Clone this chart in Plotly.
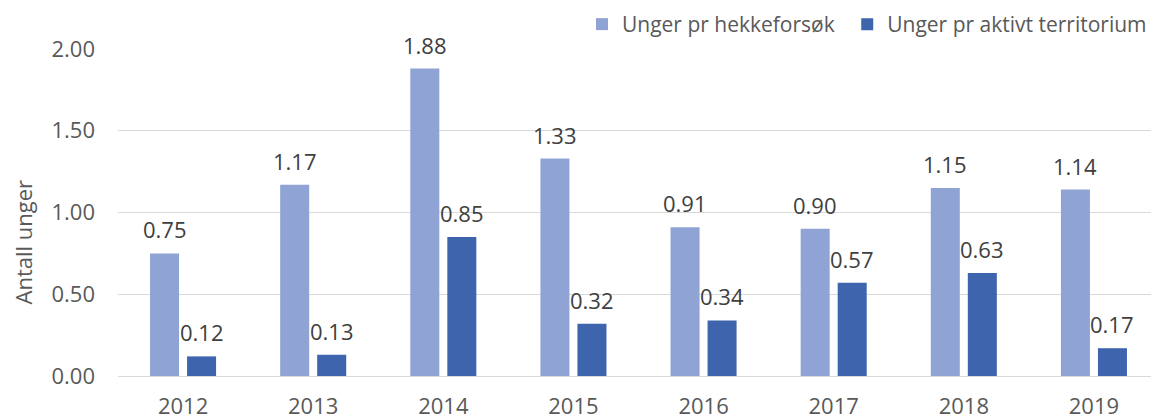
import plotly.graph_objects as go

years = ["2012", "2013", "2014", "2015", "2016", "2017", "2018", "2019"]
per_attempt = [0.75, 1.17, 1.88, 1.33, 0.91, 0.90, 1.15, 1.14]
per_territory = [0.12, 0.13, 0.85, 0.32, 0.34, 0.57, 0.63, 0.17]
series_names = ["Unger pr hekkeforsøk", "Unger pr aktivt territorium"]
colors = ["#8FA3D4", "#3D64AD"]

FONT = "Open Sans"
FS = 22
fig = go.Figure()
fig.add_trace(go.Bar(x=years, y=per_attempt, name=series_names[0], legend="legend",
                     marker=dict(color=colors[0], line=dict(width=0))))
fig.add_trace(go.Bar(x=years, y=per_territory, name=series_names[1], legend="legend2",
                     marker=dict(color=colors[1], line=dict(width=0))))

annotations = []
for vals, shift in ((per_attempt, -18.5), (per_territory, 18.5)):
    for i, v in enumerate(vals):
        annotations.append(dict(x=i, y=v, xref="x", yref="y", text=f"{v:.2f}",
                                showarrow=False, xshift=shift, yshift=24,
                                font=dict(family=FONT, size=FS, color="#404040")))
annotations.append(dict(x=0, xref="paper", xanchor="center", xshift=-96,
                        y=1.0, yref="y", yshift=-30,
                        text="Antall unger", textangle=-90, showarrow=False,
                        font=dict(family=FONT, size=FS, color="#595959")))

legend_style = dict(orientation="h", xanchor="left", y=1.075, yanchor="middle",
                    font=dict(family=FONT, size=21, color="#595959"),
                    bgcolor="rgba(0,0,0,0)", itemwidth=30)

# the page body adds an 8px offset; margins compensate for it
fig.update_layout(
    width=1159, height=416,
    margin=dict(l=110, r=8, t=41, b=48, autoexpand=False),
    paper_bgcolor="white", plot_bgcolor="white",
    barmode="group", bargap=0.431, bargroupgap=0.216,
    font=dict(family=FONT, size=FS, color="#595959"),
    showlegend=True,
    legend=dict(x=0.4457, **legend_style),
    legend2=dict(x=0.7005, **legend_style),
    annotations=annotations,
)
fig.update_xaxes(type="category", range=[-0.5, len(years) - 0.5], showgrid=False,
                 showline=False, ticks="", ticklabelstandoff=15,
                 tickfont=dict(size=FS, color="#595959"), automargin=False)
fig.update_yaxes(range=[0, 2.0], dtick=0.5, tickformat=".2f", showgrid=True,
                 gridcolor="#D9D9D9", gridwidth=1, zeroline=True, zerolinecolor="#D9D9D9",
                 zerolinewidth=1, ticks="", ticklabelstandoff=22, automargin=False,
                 tickfont=dict(size=FS, color="#595959"))

fig.write_html("out.html")
